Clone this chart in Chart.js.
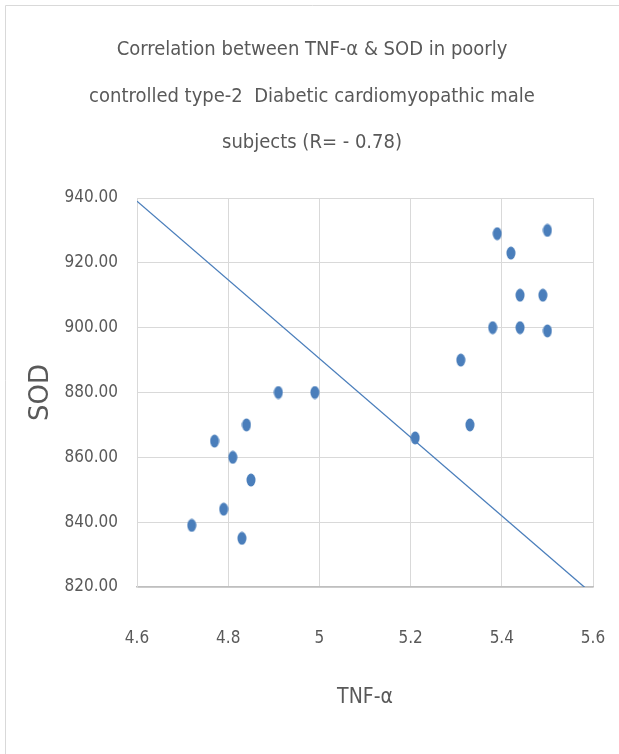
<!DOCTYPE html>
<html>
<head>
<meta charset="utf-8">
<script src="https://cdn.jsdelivr.net/npm/chart.js@4.4.1/dist/chart.umd.min.js"></script>
<style>
  html, body { margin: 0; padding: 0; background: #fff; }
  #wrap { position: relative; width: 619px; height: 754px; }
</style>
</head>
<body>
<div id="wrap"><canvas id="c" width="619" height="754"></canvas></div>
<script>
// ---- data ----
const tnfAlpha = [5.39, 5.50, 5.42, 5.44, 5.49, 5.38, 5.44, 5.50, 5.31, 4.91,
                  4.99, 4.84, 5.33, 5.21, 4.77, 4.81, 4.85, 4.79, 4.72, 4.83];
const sod      = [929, 930, 923, 910, 910, 900, 900, 899, 890, 880,
                  880, 870, 870, 866, 865, 860, 853, 844, 839, 835];
const trendX = [4.60, 5.585];
const trendY = [939, 819.5];
const titleLines = ['Correlation between TNF-\u03b1 & SOD in poorly',
                    'controlled type-2  Diabetic cardiomyopathic male',
                    'subjects (R= - 0.78)'];
const xTitle = 'TNF-\u03b1';
const yTitle = 'SOD';

const FONT = "'DejaVu Sans Condensed', 'DejaVu Sans', sans-serif";
const BLUE = '#4a7ebb';
const GREY = '#595959';

// ellipse-shaped marker (reference markers look slightly stretched)
const marker = document.createElement('canvas');
marker.width = 10; marker.height = 14;
(function () {
  const g = marker.getContext('2d');
  g.fillStyle = BLUE;
  g.beginPath();
  g.ellipse(5, 7, 4.5, 6.5, 0, 0, Math.PI * 2);
  g.fill();
})();

// outer chart frame + title (centred over the whole chart box)
const frameAndTitle = {
  id: 'frameAndTitle',
  afterDraw(chart) {
    const ctx = chart.ctx;
    ctx.save();
    ctx.strokeStyle = '#d9d9d9';
    ctx.lineWidth = 1;
    ctx.beginPath();
    ctx.moveTo(5.5, 760); ctx.lineTo(5.5, 5.5); ctx.lineTo(625, 5.5);
    ctx.stroke();
    ctx.fillStyle = GREY;
    ctx.font = '20px ' + FONT;
    ctx.textAlign = 'center';
    ctx.textBaseline = 'middle';
    titleLines.forEach((t, i) => ctx.fillText(t, 312, 50 + i * 46.5));
    ctx.restore();
  }
};

new Chart(document.getElementById('c'), {
  type: 'scatter',
  data: {
    datasets: [
      {
        label: 'SOD',
        data: tnfAlpha.map((x, i) => ({ x: x, y: sod[i] })),
        pointStyle: marker,
        pointRadius: 6,
        backgroundColor: BLUE,
        borderColor: BLUE,
        order: 1
      },
      {
        label: 'Trend',
        type: 'line',
        data: trendX.map((x, i) => ({ x: x, y: trendY[i] })),
        borderColor: BLUE,
        borderWidth: 1.3,
        pointRadius: 0,
        fill: false,
        order: 2
      }
    ]
  },
  options: {
    responsive: false,
    animation: false,
    devicePixelRatio: 1,
    layout: { padding: { top: 198, left: 0, right: 26, bottom: 0 } },
    plugins: {
      legend: { display: false },
      tooltip: { enabled: false },
      title: { display: false }
    },
    scales: {
      x: {
        type: 'linear',
        min: 4.6, max: 5.6,
        afterFit: s => { s.height = 167; s.paddingLeft = 0; s.paddingRight = 0; },
        ticks: {
          stepSize: 0.2,
          color: GREY,
          font: { family: FONT, size: 17 },
          padding: 41,
          maxRotation: 0,
          callback: v => String(parseFloat(Number(v).toFixed(1)))
        },
        grid: { color: '#d9d9d9', drawTicks: false },
        border: { color: '#bfbfbf', width: 1.5 },
        title: {
          display: true, text: xTitle, color: GREY,
          font: { family: FONT, size: 21 },
          padding: { top: 0, bottom: 44 }
        }
      },
      y: {
        min: 820, max: 940,
        afterFit: s => { s.width = 137; s.paddingTop = 0; s.paddingBottom = 0; },
        ticks: {
          stepSize: 20,
          color: GREY,
          font: { family: FONT, size: 17 },
          padding: 19,
          callback: v => Number(v).toFixed(2)
        },
        grid: { color: '#d9d9d9', drawTicks: false },
        border: { color: '#d9d9d9' },
        title: {
          display: true, text: yTitle, color: GREY,
          font: { family: "'DejaVu Sans', sans-serif", size: 26 },
          padding: { top: 26, bottom: 0 }
        }
      }
    }
  },
  plugins: [frameAndTitle]
});
</script>
</body>
</html>
